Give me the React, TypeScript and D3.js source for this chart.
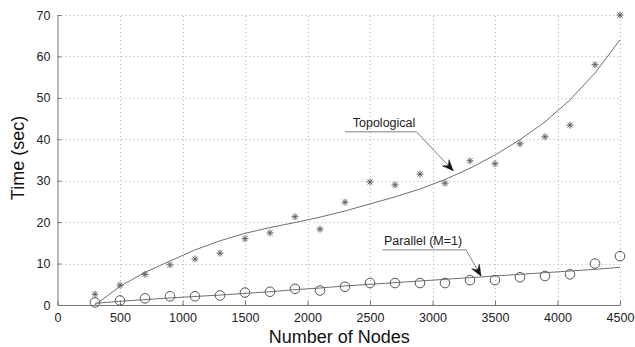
import React, { useEffect, useRef } from "react";
import { select, scaleLinear, axisBottom, axisLeft, line, range } from "d3";

// node counts used in the experiment
const nodes = [300, 500, 700, 900, 1100, 1300, 1500, 1700, 1900, 2100, 2300, 2500, 2700, 2900, 3100, 3300, 3500, 3700, 3900, 4100, 4300, 4500];

// measured times (sec)
const topological = [2.6, 4.8, 7.4, 9.7, 11.1, 12.5, 16.0, 17.4, 21.3, 18.3, 24.8, 29.7, 29.0, 31.6, 29.4, 34.8, 34.1, 38.9, 40.6, 43.4, 58.0, 70.0];
const parallel = [0.6, 1.1, 1.6, 2.1, 2.1, 2.3, 3.0, 3.2, 3.9, 3.5, 4.4, 5.3, 5.3, 5.3, 5.3, 6.0, 6.0, 6.7, 7.0, 7.4, 10.0, 11.8];

// fitted curves
const topologicalFit = [0, 4.5, 7.9, 10.6, 13.3, 15.5, 17.3, 18.7, 19.9, 21.2, 22.7, 24.4, 26.1, 28.0, 30.3, 33.0, 36.2, 39.9, 44.2, 49.5, 56.0, 64.0];
const parallelFit = [0.4, 0.9, 1.3, 1.7, 2.05, 2.4, 2.8, 3.2, 3.7, 4.1, 4.6, 5.0, 5.4, 5.8, 6.2, 6.6, 7.0, 7.4, 7.8, 8.2, 8.6, 9.1];

const xTicks = range(0, 4501, 500);
const yTicks = range(0, 71, 10);

// annotations in data units: label pos, underline start/end, arrow tip
const annotations = [
  { text: "Topological", tx: 2362, ty: 43.0, x0: 2300, x1: 2872, y: 41.8, tipX: 3166, tipY: 32.4 },
  { text: "Parallel (M=1)", tx: 2612, ty: 14.6, x0: 2601, x1: 3268, y: 13.3, tipX: 3388, tipY: 7.0 },
];

function App() {
  const svgRef = useRef();

  useEffect(() => {
    const width = 635;
    const height = 347;
    const margin = { left: 57.5, right: 15, top: 15, bottom: 42 };
    const svg = select(svgRef.current);
    svg.selectAll("*").remove();

    const xScale = scaleLinear().domain([0, 4500]).range([margin.left, width - margin.right]);
    const yScale = scaleLinear().domain([0, 70]).range([height - margin.bottom, margin.top]);

    // grid
    const grid = svg.append("g").attr("stroke", "#b0b0b0").attr("stroke-dasharray", "1,3").attr("stroke-width", 1);
    grid
      .selectAll(".vgrid")
      .data(xTicks.slice(1))
      .join("line")
      .attr("x1", (d) => Math.round(xScale(d)) + 0.5)
      .attr("x2", (d) => Math.round(xScale(d)) + 0.5)
      .attr("y1", yScale(0))
      .attr("y2", yScale(70));
    grid
      .selectAll(".hgrid")
      .data(yTicks.slice(1))
      .join("line")
      .attr("y1", (d) => Math.round(yScale(d)) + 0.5)
      .attr("y2", (d) => Math.round(yScale(d)) + 0.5)
      .attr("x1", xScale(0))
      .attr("x2", xScale(4500));

    // axes
    const xAxis = axisBottom(xScale).tickValues(xTicks).tickFormat((d) => String(d)).tickSizeInner(-4).tickSizeOuter(0).tickPadding(8);
    const yAxis = axisLeft(yScale).tickValues(yTicks).tickFormat((d) => String(d)).tickSizeInner(-4).tickSizeOuter(0).tickPadding(7);
    const gx = svg.append("g").attr("transform", `translate(0,${yScale(0)})`).call(xAxis);
    const gy = svg.append("g").attr("transform", `translate(${xScale(0)},0)`).call(yAxis);
    [gx, gy].forEach((g) => {
      g.select(".domain").attr("stroke", "#777");
      g.selectAll(".tick line").attr("stroke", "#777");
      g.selectAll(".tick text")
        .attr("fill", "#222")
        .attr("font-size", 12.5)
        .attr("font-family", "Liberation Sans, Arial, sans-serif");
    });

    // fit curves
    const fitLine = line()
      .x((d) => xScale(d[0]))
      .y((d) => yScale(d[1]));
    [topologicalFit, parallelFit].forEach((fit) => {
      svg
        .append("path")
        .datum(nodes.map((n, i) => [n, fit[i]]))
        .attr("fill", "none")
        .attr("stroke", "#707070")
        .attr("stroke-width", 1)
        .attr("d", fitLine);
    });

    // star markers
    const s = 3.5;
    const d2 = s * 0.72;
    svg
      .selectAll(".star")
      .data(nodes.map((n, i) => [n, topological[i]]))
      .join("path")
      .attr("fill", "none")
      .attr("stroke", "#606060")
      .attr("stroke-width", 1)
      .attr(
        "d",
        (d) => {
          const cx = xScale(d[0]);
          const cy = yScale(d[1]);
          return `M${cx - s},${cy}H${cx + s}M${cx},${cy - s}V${cy + s}M${cx - d2},${cy - d2}L${cx + d2},${cy + d2}M${cx - d2},${cy + d2}L${cx + d2},${cy - d2}`;
        }
      );

    // circle markers
    svg
      .selectAll(".circ")
      .data(nodes.map((n, i) => [n, parallel[i]]))
      .join("circle")
      .attr("cx", (d) => xScale(d[0]))
      .attr("cy", (d) => yScale(d[1]))
      .attr("r", 4.8)
      .attr("fill", "none")
      .attr("stroke", "#555")
      .attr("stroke-width", 1);

    // annotations
    annotations.forEach((a) => {
      const g = svg.append("g");
      g.append("text")
        .attr("x", xScale(a.tx))
        .attr("y", yScale(a.ty))
        .attr("font-size", 12.5)
        .attr("font-family", "Liberation Sans, Arial, sans-serif")
        .attr("fill", "#222")
        .text(a.text);
      const x1 = xScale(a.x1);
      const y1 = yScale(a.y);
      const tx = xScale(a.tipX);
      const ty = yScale(a.tipY);
      g.append("path")
        .attr("d", `M${xScale(a.x0)},${y1}H${x1}L${tx},${ty}`)
        .attr("fill", "none")
        .attr("stroke", "#808080")
        .attr("stroke-width", 1);
      // arrowhead
      const len = Math.hypot(tx - x1, ty - y1);
      const ux = (tx - x1) / len;
      const uy = (ty - y1) / len;
      const px = -uy;
      const py = ux;
      const L = 11;
      const W = 4.5;
      const notch = 7;
      const bx = tx - ux * L;
      const by = ty - uy * L;
      const nx = tx - ux * notch;
      const ny = ty - uy * notch;
      g.append("path")
        .attr(
          "d",
          `M${tx},${ty}L${bx + px * W},${by + py * W}L${nx},${ny}L${bx - px * W},${by - py * W}Z`
        )
        .attr("fill", "#111")
        .attr("stroke", "#111")
        .attr("stroke-width", 0.5);
    });

    // axis titles
    svg
      .append("text")
      .attr("x", (xScale(0) + xScale(4500)) / 2 + 0.5)
      .attr("y", 343)
      .attr("text-anchor", "middle")
      .attr("font-size", 18)
      .attr("font-family", "Liberation Sans, Arial, sans-serif")
      .attr("fill", "#111")
      .text("Number of Nodes");
    svg
      .append("text")
      .attr("transform", `translate(24,158) rotate(-90)`)
      .attr("text-anchor", "middle")
      .attr("font-size", 18)
      .attr("font-family", "Liberation Sans, Arial, sans-serif")
      .attr("fill", "#111")
      .text("Time (sec)");
  }, []);

  return (
    <div style={{ position: "absolute", left: 0, top: 0 }}>
      <svg ref={svgRef} width={635} height={347} style={{ display: "block", background: "#fff" }}></svg>
    </div>
  );
}

export default App;
